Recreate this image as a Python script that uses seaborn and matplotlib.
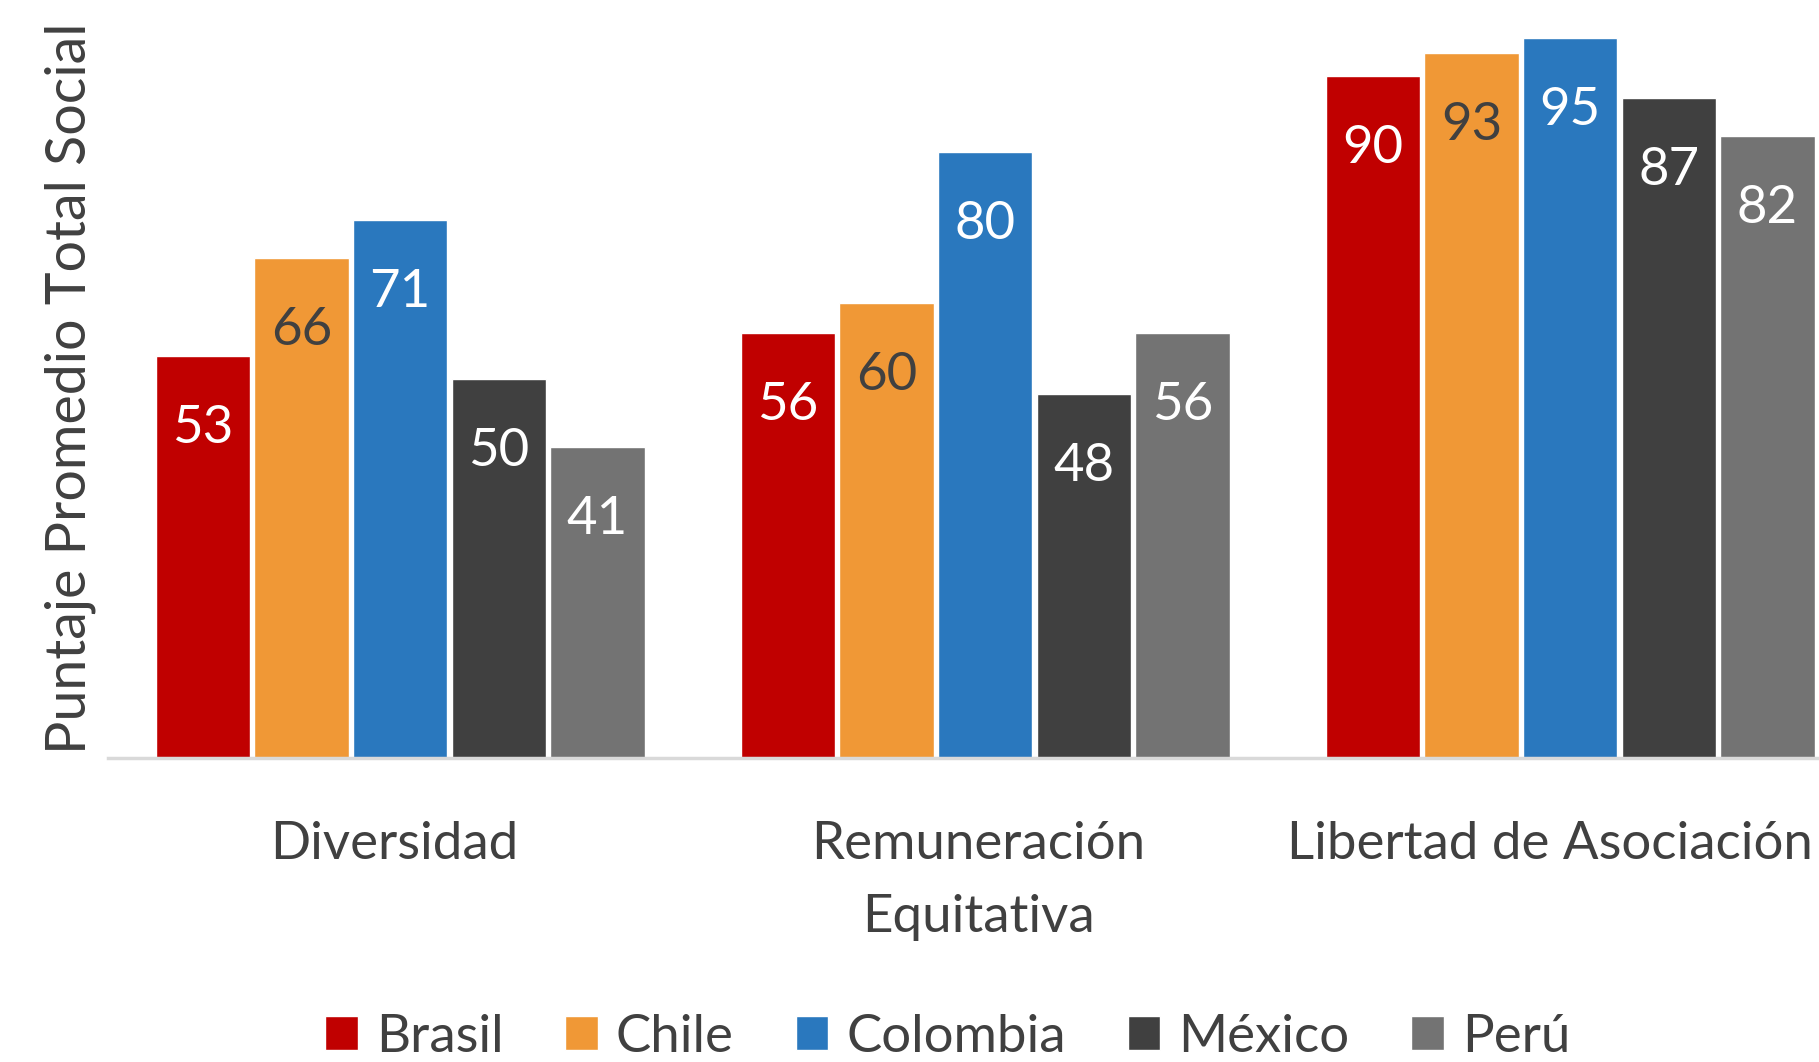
import matplotlib
matplotlib.use("Agg")
import matplotlib.pyplot as plt
from matplotlib.transforms import ScaledTranslation
import seaborn as sns
import pandas as pd

# Data
categorias = ["Diversidad", "Remuneración\nEquitativa", "Libertad de Asociación"]
paises = ["Brasil", "Chile", "Colombia", "México", "Perú"]
brasil = [53, 56, 90]
chile = [66, 60, 93]
colombia = [71, 80, 95]
mexico = [50, 48, 87]
peru = [41, 56, 82]
colores = ["#C00000", "#F09836", "#2A78BE", "#404040", "#737373"]
color_etiqueta = ["white", "#404040", "white", "white", "white"]

series = {"Brasil": brasil, "Chile": chile, "Colombia": colombia,
          "México": mexico, "Perú": peru}
filas = []
for pais in paises:
    for cat, val in zip(categorias, series[pais]):
        filas.append({"Categoría": cat, "País": pais, "Puntaje": val})
df = pd.DataFrame(filas)

sns.set_theme(style="white")
FUENTE = ["Lato", "DejaVu Sans"]
plt.rcParams["font.family"] = FUENTE
TXT = "#404040"

fig = plt.figure(figsize=(18.19, 10.62), dpi=100)
ax = fig.add_axes([0.0592, 0.2867, 0.9648, 0.7133])

sns.barplot(data=df, x="Categoría", y="Puntaje", hue="País",
            order=categorias, hue_order=paises, palette=colores,
            saturation=1, width=0.843, gap=0.045, errorbar=None,
            legend=True, ax=ax)

ax.set_xlim(-0.5, 2.5)
ax.set_ylim(0, 100)

# Value labels inside the top of each bar
for cont, pais, col in zip(ax.containers, paises, color_etiqueta):
    for rect, val in zip(cont, series[pais]):
        ax.annotate(f"{val}", (rect.get_x() + rect.get_width() / 2, val),
                    xytext=(0, -87), textcoords="offset pixels",
                    ha="center", va="baseline", fontsize=38, color=col)

for s in ["top", "right", "left"]:
    ax.spines[s].set_visible(False)
ax.spines["bottom"].set_color("#D9D9D9")
ax.spines["bottom"].set_linewidth(2.5)
ax.set_yticks([])
ax.set_ylabel("")
ax.set_xlabel("")
ax.tick_params(axis="x", length=0, pad=45.5, labelsize=38, labelcolor=TXT)

# Nudge category labels left so the last one stays inside the figure
desplazamiento_px = [-6, -7, -20]
for lbl, dx in zip(ax.get_xticklabels(), desplazamiento_px):
    lbl.set_linespacing(1.68)
    lbl.set_transform(lbl.get_transform()
                      + ScaledTranslation(dx / fig.dpi, 0, fig.dpi_scale_trans))

fig.text(0.0385, 0.634, "Puntaje Promedio Total Social", rotation=90,
         ha="center", va="center", fontsize=40, color=TXT)

handles, labels = ax.get_legend_handles_labels()
ax.legend_.remove()
leg = fig.legend(handles, labels, loc="center", bbox_to_anchor=(0.521, 0.0235),
                 ncol=5, frameon=False, fontsize=38, handlelength=0.62,
                 handleheight=0.62, handletextpad=0.34, columnspacing=1.17,
                 borderpad=0, borderaxespad=0)
for t in leg.get_texts():
    t.set_color(TXT)

fig.savefig("out.png", dpi=100)
